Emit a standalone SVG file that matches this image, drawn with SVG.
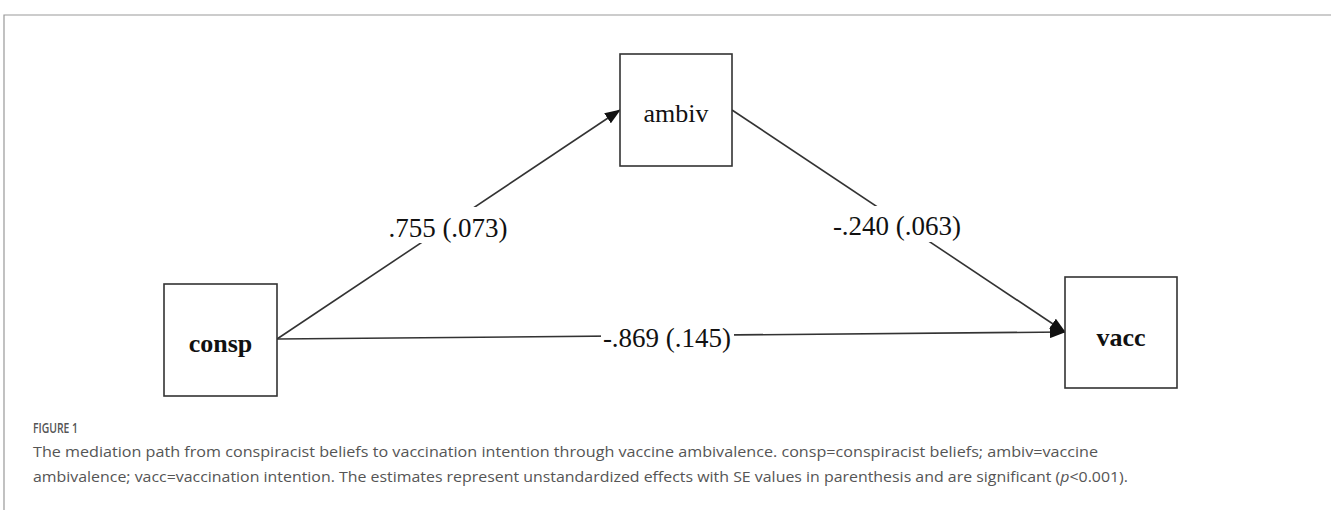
<svg xmlns="http://www.w3.org/2000/svg" width="1331" height="510" viewBox="0 0 1331 510">
<style>
.box{fill:#fff;stroke:#333;stroke-width:1.6}
.edge{stroke:#333;stroke-width:1.6;fill:none}
.nt{font-family:"Liberation Serif",serif;font-size:26px;fill:#111;text-anchor:middle}
.el{font-family:"Liberation Serif",serif;font-size:27px;fill:#111;text-anchor:middle}
.cap{font-family:"Open Sans",sans-serif;font-size:15px;fill:#555}
</style>
<defs>
<marker id="arr" markerWidth="16" markerHeight="12" refX="15" refY="6" orient="auto" markerUnits="userSpaceOnUse">
<path d="M0,0 L16,6 L0,12 Z" fill="#111"/>
</marker>
</defs>
<rect width="1331" height="510" fill="#fff"/>
<path d="M4,510 L4,15 L1331,15" fill="none" stroke="#999" stroke-width="1.2"/>
<g id="connectors">
<line class="edge" x1="277" y1="339" x2="620" y2="110" marker-end="url(#arr)"/>
<line class="edge" x1="732" y1="110" x2="1065" y2="332" marker-end="url(#arr)"/>
<line class="edge" x1="277" y1="339" x2="1065" y2="332" marker-end="url(#arr)"/>
<rect x="410" y="207" width="75" height="36" fill="#fff"/>
<rect x="826" y="206" width="144" height="36" fill="#fff"/>
<rect x="601" y="322" width="133" height="32" fill="#fff"/>
<text class="el" x="448" y="237">.755 (.073)</text>
<text class="el" x="897" y="235">-.240 (.063)</text>
<text class="el" x="667" y="347">-.869 (.145)</text>
</g>
<g id="consp">
<rect class="box" x="164" y="284" width="113" height="112"/>
<text class="nt" x="220.5" y="352" font-weight="bold">consp</text>
</g>
<g id="ambiv">
<rect class="box" x="620" y="54" width="112" height="112"/>
<text class="nt" x="676" y="122">ambiv</text>
</g>
<g id="vacc">
<rect class="box" x="1065" y="277" width="112" height="111"/>
<text class="nt" x="1121" y="346" font-weight="bold">vacc</text>
</g>
<g id="caption">
<text class="cap" x="33" y="433" font-size="12" font-weight="600" textLength="45" lengthAdjust="spacingAndGlyphs">FIGURE 1</text>
<text class="cap" x="33" y="457" textLength="1065" lengthAdjust="spacingAndGlyphs">The mediation path from conspiracist beliefs to vaccination intention through vaccine ambivalence. consp=conspiracist beliefs; ambiv=vaccine</text>
<text class="cap" x="33" y="482" textLength="1095" lengthAdjust="spacingAndGlyphs">ambivalence; vacc=vaccination intention. The estimates represent unstandardized effects with SE values in parenthesis and are significant (<tspan font-style="italic">p</tspan>&lt;0.001).</text>
</g>
</svg>
